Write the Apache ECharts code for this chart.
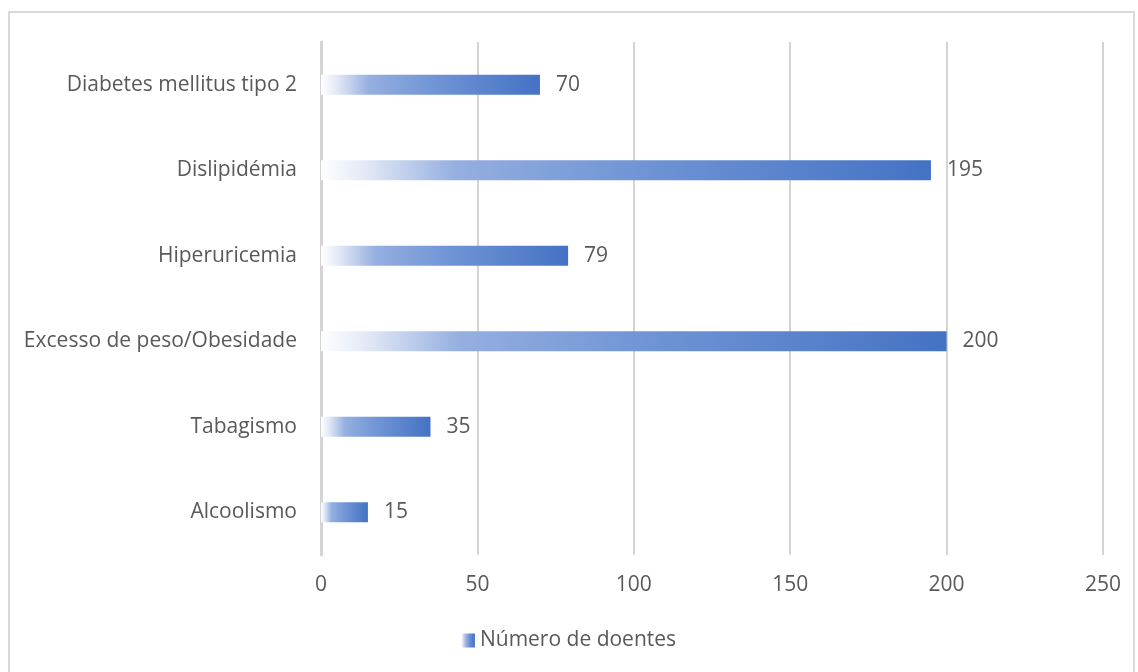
<!DOCTYPE html>
<html><head><meta charset="utf-8">
<script src="https://cdn.jsdelivr.net/npm/echarts@6/dist/echarts.min.js"></script>
<style>
html,body{margin:0;padding:0;background:#fff;}
#frame{position:absolute;left:8px;top:11px;width:1127px;height:670px;border:2px solid #d9d9d9;box-sizing:border-box;}
#c{position:absolute;left:0;top:0;width:1138px;height:672px;}
</style></head>
<body>
<div id="frame"></div>
<div id="c"></div>
<script>
const categories = ['Alcoolismo','Tabagismo','Excesso de peso/Obesidade','Hiperuricemia','Dislipidémia','Diabetes mellitus tipo 2'];
const values = [15, 35, 200, 79, 195, 70];
const seriesName = 'Número de doentes';
const xTicks = [0, 50, 100, 150, 200, 250];

const grad = new echarts.graphic.LinearGradient(0,0,1,0,[
  {offset:0, color:'#ffffff'},
  {offset:0.08, color:'#dfe6f5'},
  {offset:0.22, color:'#95afe0'},
  {offset:0.5, color:'#7296d6'},
  {offset:1, color:'#4472c4'}
]);
const legendGrad = new echarts.graphic.LinearGradient(0,0,1,0,[
  {offset:0, color:'#eef2fa'},
  {offset:0.3, color:'#9db4e2'},
  {offset:0.6, color:'#6b8fd3'},
  {offset:1, color:'#4472c4'}
]);
const font = 'Open Sans';
const fs = 21;
const chart = echarts.init(document.getElementById('c'));
chart.setOption({
  animation:false,
  textStyle:{fontFamily:font},
  grid:{left:321, right:35, top:42, bottom:117, containLabel:false},
  legend:{
    bottom:16, left:'center',
    itemWidth:13, itemHeight:14, itemGap:5,
    textStyle:{color:'#595959', fontSize:fs, fontFamily:font},
    data:[{name:seriesName, icon:'rect', itemStyle:{color:legendGrad}}]
  },
  xAxis:{
    type:'value', min:0, max:250, interval:50,
    axisLine:{show:false}, axisTick:{show:false},
    splitLine:{show:true, lineStyle:{color:'#d4d4d4', width:2}},
    axisLabel:{color:'#595959', fontSize:fs, margin:20, fontFamily:font,
      formatter: v => xTicks.includes(v) ? String(v) : ''}
  },
  yAxis:{
    type:'category', data:categories,
    axisLine:{show:true, lineStyle:{color:'#d4d4d4', width:3}},
    axisTick:{show:false},
    axisLabel:{color:'#595959', fontSize:fs, margin:24, fontFamily:font}
  },
  series:[{
    name:seriesName, type:'bar', data:values, barWidth:20,
    itemStyle:{color:grad},
    label:{show:true, position:'right', distance:16, color:'#595959', fontSize:fs, fontFamily:font}
  }]
});
</script>
</body></html>
